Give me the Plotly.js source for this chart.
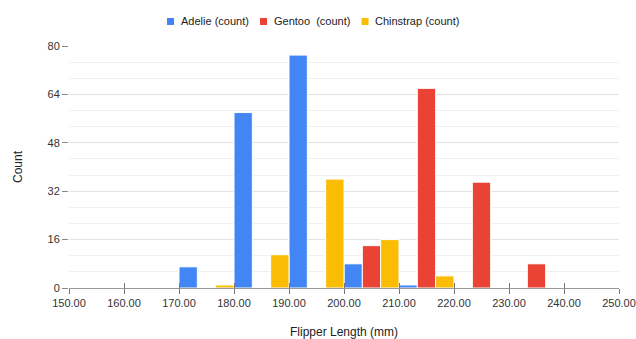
<!DOCTYPE html>
<html>
<head>
<meta charset="utf-8">
<script src="https://cdn.plot.ly/plotly-3.0.1.min.js"></script>
<style>html,body{margin:0;padding:0;background:#fff;}#chart{width:636px;height:339px;}</style>
</head>
<body>
<div id="chart"></div>
<script>
// Bin group centres (Flipper Length, mm)
const binCenters = [175, 185, 195, 205, 215, 225, 235];
// Counts per species (null = no bar)
const adelieCounts    = [7, 58, 77, 8, 1, null, null];
const gentooCounts    = [null, null, null, 14, 66, 35, 8];
const chinstrapCounts = [1, 11, 36, 16, 4, null, null];
const seriesNames = ['Adelie (count)', 'Gentoo\u00a0\u00a0(count)', 'Chinstrap (count)'];
const seriesColors = ['#4285F4', '#EA4335', '#FBBC04'];
const xTickVals = [150, 160, 170, 180, 190, 200, 210, 220, 230, 240, 250];
const yTickVals = [0, 16, 32, 48, 64, 80];

const W = 636, H = 339;
const M = {l: 69, r: 17, t: 46, b: 51};
const plotW = W - M.l - M.r, plotH = H - M.t - M.b;
const px2x = (px) => (px - M.l) / plotW;
const py2y = (py) => (H - M.b - py) / plotH;

const font = {family: 'Liberation Sans, Arial, sans-serif', size: 11, color: '#444'};
const mk = (c) => ({color: c, line: {color: '#ffffff', width: 1}});

const traces = [
  {type: 'bar', name: seriesNames[0], x: binCenters, y: adelieCounts, marker: mk(seriesColors[0])},
  {type: 'bar', name: seriesNames[1], x: binCenters, y: gentooCounts, marker: mk(seriesColors[1])},
  {type: 'bar', name: seriesNames[2], x: binCenters, y: chinstrapCounts, marker: mk(seriesColors[2])},
  {type: 'scatter', x: [150], y: [0], xaxis: 'x2', mode: 'markers', marker: {opacity: 0}, showlegend: false, hoverinfo: 'skip'}
];

// custom legend (square swatch + label)
const legendItems = [
  {sq: 167, tx: 178.5},
  {sq: 260, tx: 271.5},
  {sq: 361.5, tx: 373}
];
const legendY = 21.5;
const shapes = legendItems.map((it, i) => ({
  type: 'rect', xref: 'paper', yref: 'paper', layer: 'above',
  x0: px2x(it.sq), x1: px2x(it.sq + 7), y0: py2y(legendY + 3.5), y1: py2y(legendY - 3.5),
  fillcolor: seriesColors[i], line: {width: 0}
}));
const annotations = legendItems.map((it, i) => ({
  xref: 'paper', yref: 'paper', x: px2x(it.tx), y: py2y(legendY),
  xanchor: 'left', yanchor: 'middle', showarrow: false,
  text: seriesNames[i], font: {family: font.family, size: 11, color: '#222'}
}));

const layout = {
  width: W, height: H,
  margin: M,
  paper_bgcolor: '#fff', plot_bgcolor: '#fff',
  font: font,
  barmode: 'group', bargap: 0, bargroupgap: 0,
  showlegend: false,
  shapes: shapes, annotations: annotations,
  xaxis: {
    range: [150, 250], tickvals: xTickVals, tickformat: '.2f',
    showgrid: false, zeroline: false,
    showline: true, linecolor: '#999', linewidth: 1,
    ticks: 'outside', ticklen: 5, tickcolor: '#777', tickwidth: 1,
    tickfont: {family: font.family, size: 11, color: '#333'},
    title: {text: 'Flipper Length (mm)', font: {family: font.family, size: 12, color: '#222'}, standoff: 22}
  },
  xaxis2: {
    overlaying: 'x', range: [150, 250], tickvals: xTickVals, showticklabels: false,
    showgrid: false, zeroline: false, showline: false,
    ticks: 'inside', ticklen: 5, tickcolor: '#777', tickwidth: 1, anchor: 'y', side: 'bottom'
  },
  yaxis: {
    range: [0, 80], tickvals: yTickVals,
    showgrid: true, gridcolor: '#e3e3e3', gridwidth: 1,
    minor: {dtick: 16/3, tick0: 0, showgrid: true, gridcolor: '#f0f0f0', gridwidth: 1, ticks: ''},
    zeroline: false, showline: false,
    ticks: 'outside', ticklen: 6, tickcolor: '#888', tickwidth: 1,
    tickfont: {family: font.family, size: 11, color: '#333'},
    title: {text: 'Count', font: {family: font.family, size: 12, color: '#222'}, standoff: 22}
  }
};

Plotly.newPlot('chart', traces, layout, {displayModeBar: false, staticPlot: true});
</script>
</body>
</html>
